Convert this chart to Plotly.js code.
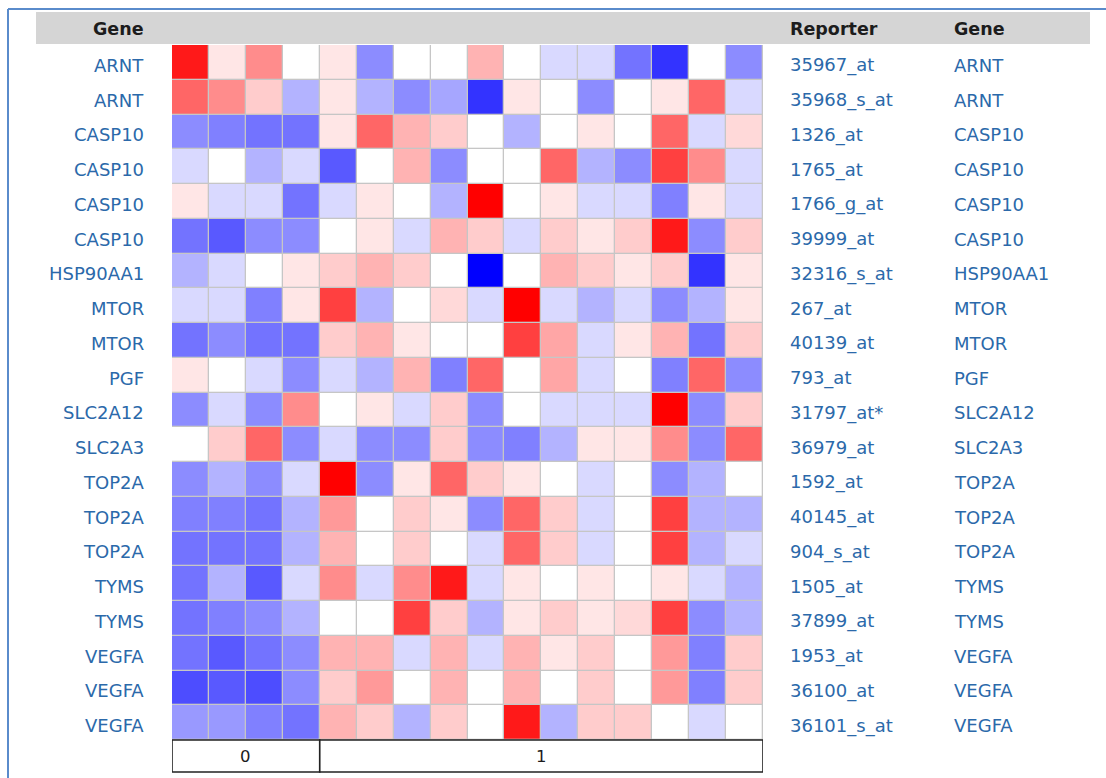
<!DOCTYPE html>
<html>
<head>
<meta charset="utf-8">
<script src="https://cdn.plot.ly/plotly-3.0.1.min.js"></script>
<style>html,body{margin:0;padding:0;background:#fff;}#chart{width:1106px;height:778px;}</style>
</head>
<body>
<div id="chart"></div>
<script>
// ---- data ----
const genes = ["ARNT","ARNT","CASP10","CASP10","CASP10","CASP10","HSP90AA1","MTOR","MTOR","PGF",
  "SLC2A12","SLC2A3","TOP2A","TOP2A","TOP2A","TYMS","TYMS","VEGFA","VEGFA","VEGFA"];
const reporters = ["35967_at","35968_s_at","1326_at","1765_at","1766_g_at","39999_at","32316_s_at","267_at","40139_at","793_at",
  "31797_at*","36979_at","1592_at","40145_at","904_s_at","1505_at","37899_at","1953_at","36100_at","36101_s_at"];
const groupLabels = ["0","1"];
const groupSizes = [4,12];
const values = [
  [ 0.90, 0.10, 0.45, 0.00, 0.10,-0.45, 0.00, 0.00, 0.30, 0.00,-0.15,-0.15,-0.55,-0.80, 0.00,-0.45],
  [ 0.60, 0.45, 0.20,-0.30, 0.10,-0.30,-0.45,-0.35,-0.80, 0.10, 0.00,-0.45, 0.00, 0.10, 0.60,-0.15],
  [-0.45,-0.50,-0.55,-0.55, 0.10, 0.60, 0.30, 0.20, 0.00,-0.30, 0.00, 0.10, 0.00, 0.60,-0.15, 0.15],
  [-0.15, 0.00,-0.30,-0.15,-0.65, 0.00, 0.30,-0.45, 0.00, 0.00, 0.60,-0.30,-0.45, 0.75, 0.45,-0.15],
  [ 0.10,-0.15,-0.15,-0.55,-0.15, 0.10, 0.00,-0.30, 1.00, 0.00, 0.10,-0.15,-0.15,-0.50, 0.10,-0.15],
  [-0.55,-0.65,-0.45,-0.45, 0.00, 0.10,-0.15, 0.30, 0.20,-0.15, 0.20, 0.10, 0.20, 0.90,-0.45, 0.20],
  [-0.30,-0.15, 0.00, 0.10, 0.20, 0.30, 0.20, 0.00,-1.00, 0.00, 0.30, 0.20, 0.10, 0.20,-0.80, 0.10],
  [-0.15,-0.15,-0.50, 0.10, 0.75,-0.30, 0.00, 0.15,-0.15, 1.00,-0.15,-0.30,-0.15,-0.45,-0.30, 0.10],
  [-0.55,-0.45,-0.55,-0.55, 0.20, 0.30, 0.10, 0.00, 0.00, 0.75, 0.35,-0.15, 0.10, 0.30,-0.55, 0.20],
  [ 0.10, 0.00,-0.15,-0.45,-0.15,-0.30, 0.30,-0.50, 0.60, 0.00, 0.35,-0.15, 0.00,-0.50, 0.60,-0.45],
  [-0.45,-0.15,-0.45, 0.45, 0.00, 0.10,-0.15, 0.20,-0.45, 0.00,-0.15,-0.15,-0.15, 1.00,-0.45, 0.20],
  [ 0.00, 0.20, 0.60,-0.45,-0.15,-0.45,-0.45, 0.20,-0.45,-0.50,-0.30, 0.10, 0.10, 0.45,-0.45, 0.60],
  [-0.45,-0.30,-0.45,-0.15, 1.00,-0.45, 0.10, 0.60, 0.20, 0.10, 0.00,-0.15, 0.00,-0.45,-0.30, 0.00],
  [-0.50,-0.50,-0.55,-0.30, 0.40, 0.00, 0.20, 0.10,-0.45, 0.60, 0.20,-0.15, 0.00, 0.75,-0.30,-0.30],
  [-0.55,-0.55,-0.55,-0.30, 0.30, 0.00, 0.20, 0.00,-0.15, 0.60, 0.20,-0.15, 0.00, 0.75,-0.30,-0.15],
  [-0.55,-0.30,-0.65,-0.15, 0.45,-0.15, 0.45, 0.90,-0.15, 0.10, 0.00, 0.10, 0.00, 0.10,-0.15,-0.30],
  [-0.55,-0.50,-0.45,-0.30, 0.00, 0.00, 0.75, 0.20,-0.30, 0.10, 0.20, 0.10, 0.15, 0.75,-0.45,-0.30],
  [-0.55,-0.65,-0.55,-0.45, 0.30, 0.30,-0.15, 0.30,-0.15, 0.30, 0.10, 0.20, 0.00, 0.40,-0.50, 0.20],
  [-0.70,-0.65,-0.70,-0.45, 0.20, 0.40, 0.00, 0.30, 0.00, 0.30, 0.00, 0.20, 0.00, 0.40,-0.50, 0.20],
  [-0.40,-0.40,-0.50,-0.55, 0.30, 0.20,-0.30, 0.20, 0.00, 0.90,-0.30, 0.20, 0.20, 0.00,-0.15, 0.00]
];

// ---- geometry (pixels) ----
const W = 1106, H = 778;
const PL = 172, PR = 763, PT = 45, PB = 740;
const px = x => (x - PL) / (PR - PL);
const py = y => (PB - y) / (PB - PT);

const nCols = values[0].length;
const rowIdx = genes.map((g, i) => i);
const colIdx = values[0].map((v, j) => j);

const labelColor = '#2b69aa';
const headColor = '#1c1c1c';
const font = 'DejaVu Sans, Verdana, sans-serif';

const trace = {
  type: 'heatmap',
  z: values,
  x: colIdx,
  y: rowIdx,
  zmin: -1, zmax: 1,
  colorscale: [[0, 'rgb(0,0,255)'], [0.5, 'rgb(255,255,255)'], [1, 'rgb(255,0,0)']],
  showscale: false,
  xgap: 1.3, ygap: 1.3,
  hoverinfo: 'skip'
};

const annotations = [];
const shapes = [];

// outer blue frame
shapes.push({type:'line', xref:'paper', yref:'paper', x0:px(8), x1:px(W+5), y0:py(9), y1:py(9), line:{color:'#5a8bcb', width:2}});
shapes.push({type:'line', xref:'paper', yref:'paper', x0:px(8), x1:px(8), y0:py(9), y1:py(H+5), line:{color:'#5a8bcb', width:2}});
// header bar
shapes.push({type:'rect', xref:'paper', yref:'paper', x0:px(36), x1:px(1090), y0:py(44), y1:py(12), fillcolor:'#d5d5d5', line:{width:0}, layer:'below'});

// headers
annotations.push({xref:'paper', yref:'paper', x:px(146), y:py(29), xanchor:'right', yanchor:'middle', text:'<b>Gene</b>', showarrow:false, font:{family:font, size:17.5, color:headColor}});
annotations.push({xref:'paper', yref:'paper', x:px(788), y:py(29), xanchor:'left', yanchor:'middle', text:'<b>Reporter</b>', showarrow:false, font:{family:font, size:17.5, color:headColor}});
annotations.push({xref:'paper', yref:'paper', x:px(952), y:py(29), xanchor:'left', yanchor:'middle', text:'<b>Gene</b>', showarrow:false, font:{family:font, size:17.5, color:headColor}});

// row labels
rowIdx.forEach(i => {
  annotations.push({xref:'paper', yref:'y', x:px(146), y:i, yshift:-3, xanchor:'right', yanchor:'middle', text:genes[i], showarrow:false, font:{family:font, size:18, color:labelColor}});
  annotations.push({xref:'paper', yref:'y', x:px(788), y:i, yshift:-3, xanchor:'left', yanchor:'middle', text:reporters[i], showarrow:false, font:{family:font, size:18, color:labelColor}});
  annotations.push({xref:'paper', yref:'y', x:px(952), y:i, yshift:-3, xanchor:'left', yanchor:'middle', text:genes[i], showarrow:false, font:{family:font, size:18, color:labelColor}});
});

// group bar
let start = 0;
groupLabels.forEach((g, k) => {
  const x0 = start - 0.5, x1 = start + groupSizes[k] - 0.5;
  shapes.push({type:'rect', xref:'x', yref:'paper', x0:x0, x1:x1, y0:py(772), y1:py(740), fillcolor:'#ffffff', line:{color:'#222222', width:1.6}});
  annotations.push({xref:'x', yref:'paper', x:(x0 + x1) / 2, y:py(757), xanchor:'center', yanchor:'middle', text:g, showarrow:false, font:{family:font, size:16.5, color:headColor}});
  start += groupSizes[k];
});

const layout = {
  width: W, height: H,
  margin: {l: PL, r: W - PR, t: PT, b: H - PB, pad: 0},
  paper_bgcolor: '#ffffff',
  plot_bgcolor: '#c6c6c6',
  xaxis: {range: [-0.5, nCols - 0.5], showticklabels: false, showgrid: false, zeroline: false, ticks: '', fixedrange: true},
  yaxis: {range: [genes.length - 0.5, -0.5], showticklabels: false, showgrid: false, zeroline: false, ticks: '', fixedrange: true},
  shapes: shapes,
  annotations: annotations,
  showlegend: false
};

Plotly.newPlot('chart', [trace], layout, {staticPlot: true, displayModeBar: false});
</script>
</body>
</html>
